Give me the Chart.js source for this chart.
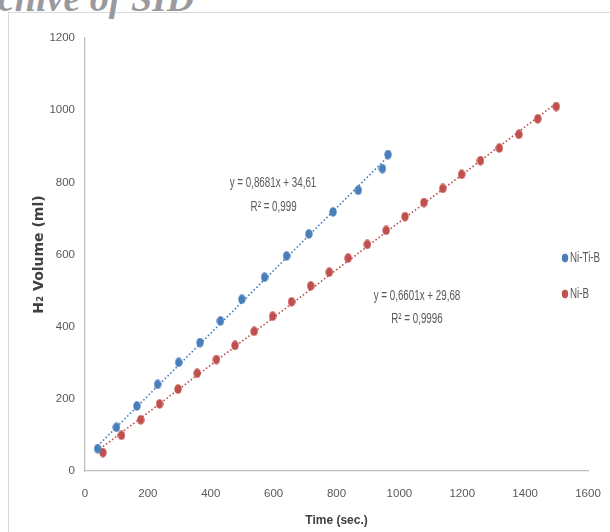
<!DOCTYPE html>
<html>
<head>
<meta charset="utf-8">
<script src="https://cdn.jsdelivr.net/npm/chart.js@4.4.1/dist/chart.umd.min.js"></script>
<style>
    html, body { margin: 0; padding: 0; background: #fff; }
    #wrap { position: relative; width: 610px; height: 532px; overflow: hidden; }
    #frame { position: absolute; left: 8px; top: 12px; width: 620px; height: 540px;
             border-left: 1px solid #d9d9d9; border-top: 1px solid #d9d9d9; }
    #mark { position: absolute; left: -2px; top: -21px; font: italic bold 38px 'Liberation Serif', serif;
            line-height: 38px; color: #9a9a9e; white-space: nowrap; }
    canvas#chart { position: absolute; left: 0; top: 0; }
</style>
</head>
<body>
<div id="wrap">
    <div id="frame"></div>
    <div id="mark">chive of SID</div>
    <canvas id="chart" width="610" height="532"></canvas>
</div>
<script>
// Ni-Ti-B readings
const niTiBTime = [40, 100, 165, 231, 298, 366, 431, 499, 571, 641, 712, 789, 869, 946, 964];
const niTiBVolume = [62, 121, 180, 240, 301, 356, 416, 476, 537, 596, 657, 718, 778, 838, 877];

// Ni-B readings
const niBTime = [57, 116, 177, 237, 296, 357, 418, 477, 538, 597, 657, 718, 777, 837, 898,
                 958, 1018, 1078, 1138, 1198, 1258, 1318, 1380, 1440, 1499];
const niBVolume = [51, 99, 142, 186, 227, 271, 309, 348, 387, 429, 469, 513, 551, 590, 628,
                   667, 705, 744, 783, 822, 860, 895, 933, 976, 1010];

// linear fits printed on the chart
const niTiBFit = { slope: 0.8681, intercept: 34.61, eq: 'y = 0,8681x + 34,61', r2: 'R² = 0,999' };
const niBFit = { slope: 0.6601, intercept: 29.68, eq: 'y = 0,6601x + 29,68', r2: 'R² = 0,9996' };

const seriesNames = ['Ni-Ti-B', 'Ni-B'];
const xTicks = [0, 200, 400, 600, 800, 1000, 1200, 1400, 1600];
const yTicks = [0, 200, 400, 600, 800, 1000, 1200];

const BLUE = '#4a7ebb';
const RED = '#c0504d';
const TEXT = '#595959';
const SANS = "'Liberation Sans', Arial, sans-serif";

const toPoints = (xs, ys) => xs.map((x, i) => ({ x, y: ys[i] }));
const fitLine = (xs, fit) => {
    const lo = Math.min(...xs), hi = Math.max(...xs);
    return [lo, hi].map(x => ({ x, y: fit.slope * x + fit.intercept }));
};

// the source markers are slightly taller than wide
function ovalMarker(color, w, h) {
    const c = document.createElement('canvas');
    c.width = w;
    c.height = h;
    const g = c.getContext('2d');
    g.fillStyle = color;
    g.beginPath();
    g.ellipse(w / 2, h / 2, w / 2 - 0.3, h / 2 - 0.3, 0, 0, Math.PI * 2);
    g.fill();
    return c;
}

// narrow text, like the Calibri labels of the original
function narrowText(ctx, text, x, y, align) {
    const squeeze = 0.7;
    ctx.save();
    ctx.translate(x, y);
    ctx.scale(squeeze, 1);
    ctx.textAlign = align;
    ctx.fillText(text, 0, 0);
    ctx.restore();
}

const overlayPlugin = {
    id: 'overlay',
    afterDraw(chart) {
        const { ctx, scales: { x, y } } = chart;
        ctx.save();
        ctx.fillStyle = TEXT;
        ctx.font = `14px ${SANS}`;
        ctx.textBaseline = 'middle';

        // equations
        narrowText(ctx, niTiBFit.eq, x.getPixelForValue(598), y.getPixelForValue(798), 'center');
        narrowText(ctx, niTiBFit.r2, x.getPixelForValue(600), y.getPixelForValue(731), 'center');
        narrowText(ctx, niBFit.eq, x.getPixelForValue(1056), y.getPixelForValue(485), 'center');
        narrowText(ctx, niBFit.r2, x.getPixelForValue(1056), y.getPixelForValue(421), 'center');

        // legend
        const colors = [BLUE, RED];
        const rows = [258, 294];
        seriesNames.forEach((name, i) => {
            ctx.fillStyle = colors[i];
            ctx.beginPath();
            ctx.ellipse(565, rows[i], 3.2, 4.2, 0, 0, Math.PI * 2);
            ctx.fill();
            ctx.fillStyle = TEXT;
            narrowText(ctx, name, 570, rows[i], 'left');
        });
        ctx.restore();
    }
};

const ctx = document.getElementById('chart').getContext('2d');
new Chart(ctx, {
    type: 'scatter',
    data: {
        datasets: [
            {
                label: seriesNames[0] + ' fit',
                type: 'line',
                data: fitLine(niTiBTime, niTiBFit),
                borderColor: BLUE,
                borderWidth: 1.6,
                borderDash: [1.6, 2.2],
                pointRadius: 0,
                fill: false
            },
            {
                label: seriesNames[1] + ' fit',
                type: 'line',
                data: fitLine(niBTime, niBFit),
                borderColor: RED,
                borderWidth: 1.6,
                borderDash: [1.6, 2.2],
                pointRadius: 0,
                fill: false
            },
            {
                label: seriesNames[0],
                data: toPoints(niTiBTime, niTiBVolume),
                pointStyle: ovalMarker(BLUE, 8, 10),
                backgroundColor: BLUE,
                borderWidth: 0,
                pointRadius: 4.5
            },
            {
                label: seriesNames[1],
                data: toPoints(niBTime, niBVolume),
                pointStyle: ovalMarker(RED, 8, 10),
                backgroundColor: RED,
                borderWidth: 0,
                pointRadius: 4.5
            }
        ]
    },
    options: {
        responsive: false,
        animation: false,
        layout: { padding: { left: 0, right: 22, top: 38, bottom: 0 } },
        plugins: {
            legend: { display: false },
            tooltip: { enabled: false }
        },
        scales: {
            x: {
                type: 'linear',
                min: 0,
                max: 1600,
                afterBuildTicks: s => { s.ticks = xTicks.map(v => ({ value: v })); },
                afterFit: s => { s.height = 61; s.paddingLeft = 0; s.paddingRight = 0; },
                grid: { display: false, drawTicks: false },
                border: { color: '#bfbfbf', width: 1.3 },
                ticks: {
                    color: TEXT, padding: 16, maxRotation: 0,
                    callback: v => String(v),
                    font: { family: SANS, size: 11.5 }
                },
                title: {
                    display: true,
                    text: 'Time (sec.)',
                    color: '#404040',
                    padding: { top: 0, bottom: 4 },
                    font: { family: SANS, size: 12, weight: 'bold' }
                }
            },
            y: {
                type: 'linear',
                min: 0,
                max: 1200,
                afterBuildTicks: s => { s.ticks = yTicks.map(v => ({ value: v })); },
                afterFit: s => { s.width = 85; s.paddingTop = 0; s.paddingBottom = 0; },
                grid: { display: false, drawTicks: false },
                border: { color: '#bfbfbf', width: 1.3 },
                ticks: {
                    color: TEXT, padding: 10,
                    callback: v => String(v),
                    font: { family: SANS, size: 11.5 }
                },
                title: {
                    display: true,
                    text: 'H₂ Volume (ml)',
                    color: '#404040',
                    padding: { top: 31, bottom: 0 },
                    font: { family: "'DejaVu Sans', sans-serif", size: 14, weight: 'bold' }
                }
            }
        }
    },
    plugins: [overlayPlugin]
});
</script>
</body>
</html>
